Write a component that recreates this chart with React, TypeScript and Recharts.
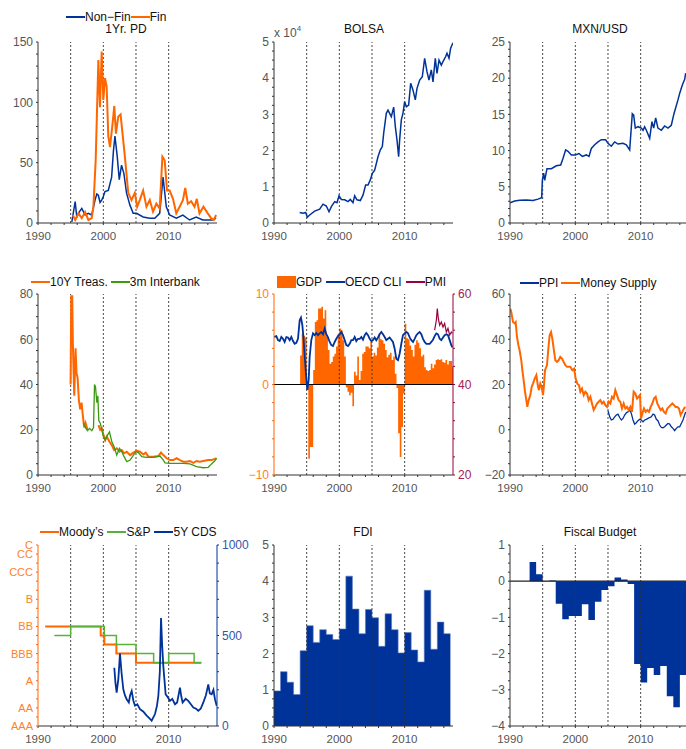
import React from "react";
import { ComposedChart, Line, Area, XAxis, YAxis, ReferenceLine } from "recharts";

const FONT = '"Liberation Sans", Arial, Helvetica, sans-serif';
const ORANGE = "#FF6600";
const BLUE = "#003399";
const GREEN = "#3A9A12";
const LIGHT_GREEN = "#58B23A";
const WINE = "#99003D";
const TICK_GRAY = "#555555";
const AXIS_GRAY = "#333333";

// x axis: minor ticks every two years, labels on the decades
const YEAR_TICKS = [1990, 1992, 1994, 1996, 1998, 2000, 2002, 2004, 2006, 2008, 2010, 2012, 2014, 2016];
const YEAR_LABELS = [1990, 2000, 2010];
const EVENT_YEARS = [1995, 2000, 2005, 2010];

// credit rating notches (AAA = 1 ... C = 21)
const RATING_NOTCHES = [1, 3, 6, 9, 12, 15, 18, 20, 21];
const RATING_LABELS = ["AAA", "AA", "A", "BBB", "BB", "B", "CCC", "CC", "C"];

type Pt = [number, number | null];

// 1Yr. PD
const PD_NONFIN: Pt[] = [
  [1995.18, 1], [1995.69, 17.7], [1995.94, 5], [1996.3, 9], [1996.7, 12], [1997.21, 6.6], [1997.72, 8], [1998.22, 6.6],
  [1998.73, 19], [1999.0, 24], [1999.24, 23], [1999.5, 17], [1999.75, 19], [2000.0, 22], [2000.25, 26], [2000.76, 27],
  [2001.27, 38], [2001.55, 60], [2001.78, 72], [2002.13, 55], [2002.44, 36], [2002.79, 48], [2003.15, 41], [2003.55, 25],
  [2004.06, 15], [2004.57, 8], [2005.08, 8], [2006.09, 5], [2007.11, 4], [2007.87, 4], [2008.63, 8], [2009.14, 38],
  [2009.64, 13.5], [2010.15, 6.6], [2011.17, 4], [2012.18, 6.6], [2013.2, 2.5], [2014.21, 5], [2015.23, 2.5],
  [2016.75, 2.5], [2017.26, 4],
];
const PD_FIN: Pt[] = [
  [1995.33, 6.6], [1995.69, 2.5], [1996.19, 8], [1996.7, 4], [1997.21, 9], [1997.72, 2.5], [1998.22, 4], [1998.48, 13.5],
  [1998.83, 52], [1999.24, 135], [1999.49, 96], [1999.75, 142], [2000.0, 102], [2000.25, 120], [2000.51, 113],
  [2000.76, 72], [2001.02, 63], [2001.37, 80], [2001.68, 97], [2001.93, 74], [2002.28, 88], [2002.64, 90], [2002.94, 74],
  [2003.3, 55], [2003.81, 25], [2004.31, 19], [2004.82, 25], [2005.18, 13.5], [2005.58, 19], [2006.09, 27],
  [2006.6, 13.5], [2007.11, 19], [2007.61, 9.4], [2008.12, 16], [2008.63, 12], [2009.04, 55], [2009.39, 52],
  [2009.75, 27], [2010.15, 27], [2010.66, 20], [2011.17, 8], [2011.68, 13.5], [2012.18, 19], [2012.54, 29],
  [2012.94, 16], [2013.45, 18], [2013.96, 13.5], [2014.31, 20], [2014.72, 8], [2015.33, 13.5], [2015.99, 8],
  [2016.5, 4], [2016.9, 2.5], [2017.26, 6.6],
];

// BOLSA index, in units of 10^4
const BOLSA: Pt[] = [
  [1993.93, 0.29], [1994.44, 0.27], [1994.85, 0.29], [1995.1, 0.16], [1995.46, 0.22], [1996.22, 0.33], [1996.99, 0.38],
  [1997.5, 0.52], [1998.01, 0.47], [1998.42, 0.31], [1998.78, 0.45], [1999.29, 0.59], [1999.64, 0.56], [1999.95, 0.75],
  [2000.31, 0.65], [2000.82, 0.64], [2001.33, 0.59], [2001.68, 0.65], [2002.09, 0.56], [2002.35, 0.75], [2002.7, 0.64],
  [2003.21, 0.62], [2003.62, 0.77], [2004.03, 1.05], [2004.39, 1.05], [2004.74, 1.19], [2005.05, 1.37], [2005.41, 1.46],
  [2005.92, 1.83], [2006.28, 2.02], [2006.58, 2.11], [2006.79, 2.48], [2007.19, 3.03], [2007.45, 3.12], [2007.7, 3.03],
  [2007.96, 2.94], [2008.32, 3.2], [2008.57, 2.66], [2008.83, 2.29], [2009.08, 1.83], [2009.23, 2.29], [2009.49, 2.85],
  [2009.74, 3.03], [2010.0, 3.35], [2010.26, 3.21], [2010.61, 3.26], [2010.92, 3.86], [2011.28, 3.67], [2011.63, 3.4],
  [2011.89, 3.72], [2012.3, 3.95], [2012.7, 4.04], [2013.06, 4.55], [2013.42, 4.18], [2013.72, 3.95], [2014.08, 4.23],
  [2014.34, 3.9], [2014.69, 4.55], [2014.95, 4.13], [2015.26, 4.5], [2015.61, 4.36], [2015.87, 4.46], [2016.28, 4.6],
  [2016.48, 4.69], [2016.79, 4.55], [2017.04, 4.83], [2017.4, 4.98],
];

// MXN/USD
const MXN_USD: Pt[] = [
  [1990.0, 2.8], [1990.71, 3.04], [1991.48, 3.13], [1992.5, 3.18], [1993.52, 3.1], [1994.29, 3.3], [1994.85, 3.5],
  [1994.95, 5.9], [1995.15, 6.9], [1995.31, 5.9], [1995.66, 7.5], [1996.33, 7.5], [1997.09, 7.9], [1997.76, 8.0],
  [1998.11, 8.9], [1998.52, 10.1], [1998.88, 9.9], [1999.39, 9.4], [2000.0, 9.4], [2000.56, 9.6], [2001.07, 9.2],
  [2001.68, 9.4], [2002.09, 9.2], [2002.45, 10.3], [2002.96, 10.8], [2003.47, 11.2], [2003.98, 11.5], [2004.64, 11.5],
  [2005.0, 11], [2005.51, 10.6], [2006.02, 11.2], [2006.53, 10.9], [2007.3, 11], [2007.81, 10.8], [2008.32, 10.1],
  [2008.72, 15.1], [2008.93, 14.9], [2009.18, 13.1], [2009.59, 13.3], [2010.1, 13.1], [2010.36, 12.8], [2010.61, 13.3],
  [2010.97, 12.6], [2011.38, 11.7], [2011.73, 14], [2011.99, 13.1], [2012.3, 14.5], [2012.65, 13.1], [2013.16, 12.8],
  [2013.67, 13.4], [2014.18, 13.1], [2014.69, 13.5], [2015.1, 15.1], [2015.71, 17], [2015.97, 17.9], [2016.22, 18.6],
  [2016.48, 19.3], [2016.73, 19.8], [2016.89, 20.7],
];

// 10Y Treasury (gap 1997.6-1999.2) and 3m interbank rate
const TREAS_10Y: Pt[] = [
  [1994.99, 40], [1995.09, 79], [1995.24, 79], [1995.34, 58], [1995.55, 35], [1995.75, 56], [1995.9, 45], [1996.06, 43],
  [1996.26, 33], [1996.46, 29], [1996.67, 32], [1996.87, 26], [1997.07, 21], [1997.28, 23], [1997.58, 20], [1998.4, null],
  [1999.26, 22], [1999.52, 20], [1999.77, 20.6], [2000.03, 17.6], [2000.28, 15.4], [2000.53, 17], [2000.94, 14.7],
  [2001.3, 13.2], [2001.65, 11], [2002.06, 11.8], [2002.47, 10.3], [2002.82, 11], [2003.18, 9.6], [2003.59, 10.3],
  [2004.1, 8.8], [2004.61, 9.9], [2005.11, 10.7], [2005.62, 10.3], [2006.13, 9.1], [2006.49, 9.9], [2006.9, 8.1],
  [2007.66, 8.1], [2008.42, 8.4], [2008.83, 9.9], [2009.19, 8.8], [2009.69, 7.4], [2010.2, 6.6], [2010.71, 6.6],
  [2011.22, 7.4], [2011.73, 6.6], [2012.24, 5.9], [2012.75, 5.9], [2013.26, 6.2], [2013.77, 5.4], [2014.27, 6.2],
  [2014.78, 5.9], [2015.29, 6.2], [2016.06, 6.6], [2016.56, 6.6], [2017.07, 7.1], [2017.33, 7.4],
];
const INTERBANK_3M: Pt[] = [
  [1996.97, 23], [1997.23, 21], [1997.58, 19.6], [1997.89, 20.6], [1998.24, 19.6], [1998.5, 21], [1998.65, 40],
  [1998.8, 39], [1999.01, 32], [1999.16, 35], [1999.31, 24], [1999.52, 23], [1999.77, 20], [2000.03, 17], [2000.28, 15.4],
  [2000.64, 17.6], [2000.94, 19], [2001.3, 14.7], [2001.65, 12.5], [2002.06, 8.8], [2002.47, 11.8], [2002.82, 10.3],
  [2003.18, 8.1], [2003.59, 5.9], [2004.1, 6.6], [2004.61, 8.8], [2005.01, 10.3], [2005.37, 9.9], [2005.88, 8.1],
  [2006.64, 7.8], [2007.66, 7.8], [2008.68, 8.4], [2009.19, 6.6], [2009.44, 5.4], [2010.2, 5.1], [2012.24, 5.1],
  [2013.26, 4.9], [2014.27, 3.7], [2015.29, 3.2], [2016.06, 3.4], [2016.56, 4.9], [2017.07, 6.3], [2017.33, 7.4],
];

// GDP growth, quarterly
const GDP_Q: Pt[] = [
  [1994.0, 3.2], [1994.25, 5.6], [1994.5, 5.4], [1994.75, 5.2], [1995.0, -0.6], [1995.25, -8.2], [1995.5, -6.9],
  [1995.75, -6.9], [1996.0, 1.6], [1996.25, 6.9], [1996.5, 7.1], [1996.75, 8.4], [1997.0, 8.4], [1997.25, 8.6],
  [1997.5, 7.3], [1997.75, 8.2], [1998.0, 5.3], [1998.25, 3.8], [1998.5, 2.3], [1998.75, 2.5], [1999.0, 3.1],
  [1999.25, 3.4], [1999.5, 4.2], [1999.75, 5.6], [2000.0, 6.2], [2000.25, 6.0], [2000.5, 4.9], [2000.75, 3.1],
  [2001.0, -0.3], [2001.25, -0.8], [2001.5, -1.2], [2001.75, -0.9], [2002.0, -2.4], [2002.25, 1.4], [2002.5, 1.0],
  [2002.75, 3.1], [2003.0, 0.5], [2003.25, 1.5], [2003.5, 3.4], [2003.75, 3.6], [2004.0, 4.2], [2004.25, 4.2],
  [2004.5, 4.0], [2004.75, 4.7], [2005.0, 3.1], [2005.25, 3.5], [2005.5, 3.2], [2005.75, 4.1], [2006.0, 5.6],
  [2006.25, 5.0], [2006.5, 4.9], [2006.75, 4.5], [2007.0, 3.8], [2007.25, 3.0], [2007.5, 3.3], [2007.75, 3.5],
  [2008.0, 2.7], [2008.25, 3.1], [2008.5, 1.2], [2008.75, -0.4], [2009.0, -5.4], [2009.25, -8.0], [2009.5, -4.7],
  [2009.75, -1.0], [2010.0, 6.7], [2010.25, 5.1], [2010.5, 5.0], [2010.75, 4.3], [2011.0, 3.8], [2011.25, 3.1],
  [2011.5, 4.4], [2011.75, 4.9], [2012.0, 4.6], [2012.25, 4.0], [2012.5, 3.1], [2012.75, 3.3], [2013.0, 1.9],
  [2013.25, 1.6], [2013.5, 1.5], [2013.75, 1.6], [2014.0, 2.3], [2014.25, 1.8], [2014.5, 2.2], [2014.75, 2.7],
  [2015.0, 2.8], [2015.25, 2.7], [2015.5, 2.8], [2015.75, 2.5], [2016.0, 2.4], [2016.25, 2.7], [2016.5, 2.2],
  [2016.75, 2.6], [2017.0, 2.6], [2017.25, 2.0],
];
// OECD CLI and PMI, on the right-hand scale
const OECD_CLI: Pt[] = [
  [1990.0, 50.5], [1990.36, 50.7], [1990.61, 49.8], [1990.87, 49.6], [1991.12, 50.5], [1991.38, 50.1], [1991.63, 49.4],
  [1991.89, 50.5], [1992.14, 50.4], [1992.4, 49.8], [1992.65, 50.5], [1992.91, 49.6], [1993.16, 49.0], [1993.42, 49.2],
  [1993.67, 50.1], [1993.93, 54.2], [1994.13, 54.8], [1994.34, 53.1], [1994.54, 49.8], [1994.74, 45.4], [1994.95, 41.3],
  [1995.1, 38.8], [1995.31, 41.0], [1995.46, 46.1], [1995.71, 49.8], [1995.97, 51.3], [1996.22, 50.9], [1996.48, 51.4],
  [1996.73, 50.9], [1996.99, 51.3], [1997.24, 51.6], [1997.5, 51.1], [1997.76, 52.4], [1998.01, 51.1], [1998.27, 50.4],
  [1998.52, 49.4], [1998.78, 48.7], [1999.03, 48.5], [1999.29, 49.4], [1999.54, 50.1], [1999.8, 50.7], [2000.05, 51.1],
  [2000.31, 51.6], [2000.56, 50.9], [2000.82, 49.8], [2001.07, 48.7], [2001.33, 48.5], [2001.58, 49.0], [2001.84, 49.8],
  [2002.09, 49.8], [2002.35, 50.5], [2002.6, 49.6], [2002.86, 50.1], [2003.11, 50.1], [2003.37, 50.5], [2003.62, 49.9],
  [2003.88, 50.9], [2004.13, 51.4], [2004.39, 50.9], [2004.64, 50.1], [2004.9, 49.6], [2005.15, 49.8], [2005.41, 50.4],
  [2005.66, 49.8], [2005.92, 50.4], [2006.17, 51.1], [2006.43, 51.6], [2006.68, 51.1], [2006.94, 50.5], [2007.19, 49.8],
  [2007.45, 50.1], [2007.7, 50.4], [2007.96, 49.9], [2008.21, 49.4], [2008.47, 47.9], [2008.72, 45.7], [2008.98, 45.4],
  [2009.23, 46.8], [2009.49, 49.0], [2009.74, 50.9], [2010.0, 51.3], [2010.26, 51.6], [2010.51, 51.3], [2010.77, 50.4],
  [2011.02, 49.8], [2011.28, 49.4], [2011.53, 50.1], [2011.79, 50.9], [2012.04, 51.3], [2012.3, 51.6], [2012.55, 51.1],
  [2012.81, 50.1], [2013.06, 49.4], [2013.32, 49.0], [2013.83, 49.0], [2014.08, 49.4], [2014.34, 49.9], [2014.59, 50.7],
  [2014.85, 51.3], [2015.1, 51.1], [2015.36, 50.1], [2015.61, 49.8], [2015.87, 50.4], [2016.12, 50.9], [2016.38, 51.1],
  [2016.63, 50.9], [2016.89, 49.8], [2017.14, 48.7], [2017.3, 48.2],
];
const PMI: Pt[] = [
  [2014.59, 52.0], [2014.85, 54.2], [2015.0, 56.8], [2015.15, 54.6], [2015.36, 53.1], [2015.61, 53.8], [2015.87, 52.7],
  [2016.12, 53.5], [2016.38, 51.6], [2016.63, 52.4], [2016.89, 50.9], [2017.14, 51.6], [2017.3, 51.3],
];

// PPI and money supply growth
const PPI: Pt[] = [
  [2005.0, 8.4], [2005.26, 5.7], [2005.51, 4.3], [2005.77, 4.6], [2006.02, 5.7], [2006.28, 6.5], [2006.53, 6.9],
  [2006.79, 5.4], [2007.04, 4.3], [2007.3, 5.0], [2007.55, 6.5], [2007.81, 7.5], [2008.06, 7.9], [2008.32, 8.7],
  [2008.57, 7.2], [2008.83, 4.3], [2009.08, 2.5], [2009.34, 3.1], [2009.59, 4.0], [2009.85, 4.6], [2010.1, 4.3],
  [2010.36, 3.5], [2010.61, 4.3], [2010.87, 4.6], [2011.12, 5.0], [2011.38, 5.4], [2011.63, 5.7], [2011.89, 6.9],
  [2012.14, 6.5], [2012.4, 4.6], [2012.65, 4.0], [2012.91, 2.1], [2013.16, 1.0], [2013.42, 0.9], [2013.67, 1.3],
  [2013.93, 2.1], [2014.18, 2.8], [2014.44, 2.5], [2014.69, 1.3], [2014.95, 0.6], [2015.2, -0.4], [2015.46, 0.6],
  [2015.71, 1.3], [2015.97, 1.3], [2016.22, 2.8], [2016.48, 4.3], [2016.73, 6.5], [2016.89, 7.9],
];
const MONEY_SUPPLY: Pt[] = [
  [1990.05, 53.5], [1990.2, 52], [1990.46, 47.6], [1990.71, 47], [1990.87, 47.6], [1991.07, 41], [1991.28, 37.4],
  [1991.48, 35], [1991.73, 30.7], [1991.89, 26.3], [1992.09, 21.9], [1992.3, 16.8], [1992.5, 13.1], [1992.65, 10.1],
  [1992.86, 13.1], [1993.11, 15.3], [1993.32, 19], [1993.52, 20.4], [1993.78, 22.6], [1994.03, 24.1], [1994.29, 19],
  [1994.44, 17.5], [1994.64, 20.4], [1994.85, 19], [1995.05, 15.3], [1995.2, 19.7], [1995.36, 26.3], [1995.66, 28.5],
  [1995.87, 35.9], [1996.07, 41.8], [1996.28, 43.2], [1996.48, 40.3], [1996.73, 35], [1996.94, 30.7], [1997.19, 30],
  [1997.45, 30.7], [1997.7, 32.2], [1997.96, 31.5], [1998.21, 30], [1998.47, 28.5], [1998.72, 27.8], [1998.98, 27.8],
  [1999.23, 27.8], [1999.54, 26.3], [1999.8, 27], [2000.05, 22.6], [2000.31, 20.4], [2000.56, 19.7], [2000.77, 16.8],
  [2001.02, 18.2], [2001.28, 15.3], [2001.53, 16.8], [2001.79, 16], [2002.04, 13.1], [2002.3, 14.6], [2002.55, 11.6],
  [2002.81, 8.7], [2003.06, 10.1], [2003.32, 11.6], [2003.57, 12.4], [2003.83, 13.1], [2004.08, 11.6], [2004.34, 12.4],
  [2004.59, 10.9], [2004.85, 10.1], [2005.1, 12.4], [2005.36, 11.6], [2005.61, 14.6], [2005.87, 13.8], [2006.12, 17.5],
  [2006.38, 15.3], [2006.63, 13.1], [2006.89, 12.4], [2007.14, 9.4], [2007.4, 11.6], [2007.65, 9.4], [2007.91, 10.1],
  [2008.16, 8.7], [2008.42, 10.1], [2008.67, 7.9], [2008.93, 16.8], [2009.18, 16], [2009.44, 13.8], [2009.69, 14.6],
  [2009.9, 15.3], [2010.05, 5], [2010.26, 7.2], [2010.51, 9.4], [2010.77, 7.9], [2011.02, 8.7], [2011.28, 7.9],
  [2011.53, 10.1], [2011.79, 11.6], [2012.04, 13.8], [2012.3, 14.6], [2012.55, 11.6], [2012.81, 10.1], [2013.06, 8.7],
  [2013.32, 9.4], [2013.57, 7.9], [2013.83, 7.2], [2014.08, 9.4], [2014.34, 10.1], [2014.59, 10.9], [2014.85, 11.6],
  [2015.1, 10.9], [2015.36, 10.1], [2015.61, 10.1], [2015.87, 9.4], [2016.12, 6.5], [2016.38, 7.9], [2016.63, 9.4],
  [2016.84, 10.1],
];

// sovereign ratings (notch changes) and 5Y CDS spread
const MOODYS: Pt[] = [[1991.1, 12], [1999.6, 11], [2000.15, 10], [2002.0, 9], [2005.0, 8], [2015.0, 8]];
const SP: Pt[] = [
  [1992.5, 11], [1995.0, 12], [2000.15, 11], [2002.0, 10], [2005.0, 9], [2007.7, 8], [2010.0, 9], [2013.9, 8], [2015.0, 8],
];
const CDS_5Y: Pt[] = [
  [2001.68, 322], [2001.85, 240], [2002.04, 185], [2002.3, 260], [2002.55, 400], [2002.8, 290], [2003.06, 203],
  [2003.3, 170], [2003.57, 148], [2003.9, 130], [2004.1, 170], [2004.34, 194], [2004.6, 140], [2004.85, 112],
  [2005.2, 120], [2005.61, 93], [2006.1, 80], [2006.63, 57], [2007.0, 45], [2007.4, 29], [2007.91, 66], [2008.2, 110],
  [2008.42, 166], [2008.65, 300], [2008.83, 596], [2009.0, 450], [2009.18, 331], [2009.54, 175], [2009.85, 160],
  [2010.2, 139], [2010.55, 150], [2010.97, 120], [2011.3, 130], [2011.73, 212], [2011.95, 160], [2012.14, 130],
  [2012.6, 150], [2013.01, 139], [2013.4, 120], [2013.78, 102], [2014.2, 95], [2014.54, 84], [2014.9, 95],
  [2015.31, 130], [2015.7, 170], [2016.07, 230], [2016.3, 180], [2016.58, 175], [2016.85, 200], [2017.09, 148],
  [2017.35, 112],
];

// annual FDI and fiscal balance
const FDI: Pt[] = [
  [1990, 0.97], [1991, 1.5], [1992, 1.21], [1993, 0.87], [1994, 2.08], [1995, 2.77], [1996, 2.31], [1997, 2.66],
  [1998, 2.53], [1999, 2.39], [2000, 2.68], [2001, 4.14], [2002, 3.23], [2003, 2.55], [2004, 3.22], [2005, 2.99],
  [2006, 2.2], [2007, 3.1], [2008, 2.66], [2009, 2.02], [2010, 2.58], [2011, 2.1], [2012, 1.77], [2013, 3.75],
  [2014, 2.12], [2015, 2.87], [2016, 2.55],
];
const FISCAL: Pt[] = [
  [1993, 0.53], [1994, 0.19], [1995, -0.01], [1996, 0.02], [1997, -0.62], [1998, -1.05], [1999, -0.96], [2000, -0.96],
  [2001, -0.64], [2002, -1.07], [2003, -0.57], [2004, -0.24], [2005, -0.14], [2006, 0.1], [2007, 0.05], [2008, -0.08],
  [2009, -2.29], [2010, -2.8], [2011, -2.4], [2012, -2.59], [2013, -2.34], [2014, -3.18], [2015, -3.48], [2016, -2.59],
];

const toPts = (arr: Pt[]) => arr.map(([x, y]) => ({ x, y }));
// step series: repeat the last value at the end of its period so the final bar gets its width
const stepPts = (arr: Pt[], period: number) => {
  const [lx, ly] = arr[arr.length - 1];
  return [...toPts(arr), { x: lx + period, y: ly }];
};

const tickRange = (min: number, max: number, step: number) => {
  const out: number[] = [];
  const n = Math.round((max - min) / step);
  for (let i = 0; i <= n; i++) out.push(Math.round((min + i * step) * 1e6) / 1e6);
  return out;
};
const majorLabel = (major: number) => (v: number) => {
  const k = v / major;
  if (Math.abs(k - Math.round(k)) > 1e-6) return "";
  return v < 0 ? "\u2212" + String(-v) : String(v);
};

const PLOT_W = 179;
const PLOT_H = 181;
const AXIS_W = 38;
const TOP_PAD = 10;
const X_AXIS_H = 26;
const COLS = [38, 274, 510];
const ROWS = [42, 294, 545];

function Panel({ col, row, right = 0, children }: { col: number; row: number; right?: number; children: React.ReactNode }) {
  return (
    <div style={{ position: "absolute", left: COLS[col] - AXIS_W, top: ROWS[row] - TOP_PAD }}>
      <ComposedChart
        width={AXIS_W + PLOT_W + (right || 8)}
        height={TOP_PAD + PLOT_H + X_AXIS_H}
        margin={{ top: TOP_PAD, right: right ? 0 : 8, bottom: 0, left: 0 }}
      >
        {children}
      </ComposedChart>
    </div>
  );
}

const timeAxis = () => (
  <XAxis
    dataKey="x"
    type="number"
    domain={[1990, 2017.4]}
    ticks={YEAR_TICKS}
    interval={0}
    allowDataOverflow
    tickFormatter={(v: number) => (YEAR_LABELS.includes(v) ? String(v) : "")}
    stroke={AXIS_GRAY}
    tickSize={2}
    tickMargin={7}
    height={X_AXIS_H}
    tick={{ fontSize: 11.5, fill: TICK_GRAY, fontFamily: FONT }}
  />
);

const valueAxis = (o: {
  id?: string;
  side?: "left" | "right";
  domain: [number, number];
  minor: number;
  major: number;
  color?: string;
  labelColor?: string;
  fontSize?: number;
  format?: (v: number) => string;
}) => (
  <YAxis
    yAxisId={o.id ?? "l"}
    orientation={o.side ?? "left"}
    type="number"
    domain={o.domain}
    ticks={tickRange(o.domain[0], o.domain[1], o.minor)}
    interval={0}
    allowDataOverflow
    tickFormatter={o.format ?? majorLabel(o.major)}
    width={o.side === "right" ? 40 : AXIS_W}
    stroke={o.color ?? AXIS_GRAY}
    tickSize={2}
    tickMargin={3}
    tick={{ fontSize: o.fontSize ?? 12, fill: o.labelColor ?? TICK_GRAY, fontFamily: FONT }}
  />
);

const eventLines = () =>
  EVENT_YEARS.map((yr) => (
    <ReferenceLine key={yr} x={yr} yAxisId="l" stroke="#333" strokeDasharray="2 2" strokeWidth={0.9} />
  ));

function series(data: Pt[], color: string, width = 1.5, axis = "l", type: "linear" | "stepAfter" = "linear") {
  return (
    <Line
      data={toPts(data)}
      dataKey="y"
      yAxisId={axis}
      type={type}
      stroke={color}
      strokeWidth={width}
      dot={false}
      activeDot={false}
      connectNulls={false}
      isAnimationActive={false}
    />
  );
}

type LegendItem = { label: string; color: string; box?: boolean; thick?: number };

function Legend({ left, cy, items, gap = 3 }: { left: number; cy: number; items: LegendItem[]; gap?: number }) {
  return (
    <div
      style={{
        position: "absolute",
        left,
        top: cy - 8,
        height: 16,
        display: "flex",
        alignItems: "center",
        fontFamily: FONT,
        fontSize: 12,
        color: "#111",
        whiteSpace: "nowrap",
      }}
    >
      {items.map((it, i) => (
        <span key={it.label} style={{ display: "flex", alignItems: "center", marginLeft: i ? gap : 0 }}>
          <span
            style={{
              display: "inline-block",
              width: 19,
              height: it.box ? 12 : it.thick ?? 1.5,
              background: it.color,
            }}
          />
          <span>{it.label}</span>
        </span>
      ))}
    </div>
  );
}

function Title({ cx, cy, text }: { cx: number; cy: number; text: string }) {
  return (
    <div
      style={{
        position: "absolute",
        left: cx,
        top: cy,
        transform: "translate(-50%, -50%)",
        fontFamily: FONT,
        fontSize: 12,
        color: "#111",
        whiteSpace: "nowrap",
      }}
    >
      {text}
    </div>
  );
}

export default function App() {
  return (
    <div
      style={{
        position: "absolute",
        left: 0,
        top: 0,
        width: 686,
        height: 749,
        overflow: "hidden",
        background: "#fff",
        fontFamily: FONT,
      }}
    >
      {/* 1Yr. PD */}
      <Panel col={0} row={0}>
        {timeAxis()}
        {valueAxis({ domain: [0, 150], minor: 10, major: 50 })}
        {eventLines()}
        {series(PD_NONFIN, BLUE, 1.5)}
        {series(PD_FIN, ORANGE, 2)}
      </Panel>
      <Legend
        left={66}
        cy={17}
        gap={0}
        items={[
          { label: "Non\u2212Fin", color: BLUE },
          { label: "Fin", color: ORANGE, thick: 2 },
        ]}
      />
      <Title cx={126} cy={29} text="1Yr. PD" />

      {/* BOLSA */}
      <Panel col={1} row={0}>
        {timeAxis()}
        {valueAxis({ domain: [0, 5], minor: 0.25, major: 1 })}
        {eventLines()}
        {series(BOLSA, BLUE, 1.5)}
      </Panel>
      <Title cx={364} cy={28.5} text="BOLSA" />
      <div style={{ position: "absolute", left: 274, top: 25, fontFamily: FONT, fontSize: 12, color: TICK_GRAY }}>
        x 10<sup style={{ fontSize: 8, position: "relative", top: -1 }}>4</sup>
      </div>

      {/* MXN/USD */}
      <Panel col={2} row={0}>
        {timeAxis()}
        {valueAxis({ domain: [0, 25], minor: 1, major: 5 })}
        {eventLines()}
        {series(MXN_USD, BLUE, 1.5)}
      </Panel>
      <Title cx={600} cy={28.5} text="MXN/USD" />

      {/* Rates */}
      <Panel col={0} row={1}>
        {timeAxis()}
        {valueAxis({ domain: [0, 80], minor: 5, major: 20 })}
        {eventLines()}
        {series(TREAS_10Y, ORANGE, 2)}
        {series(INTERBANK_3M, GREEN, 1.3)}
      </Panel>
      <Legend
        left={31}
        cy={282}
        items={[
          { label: "10Y Treas.", color: ORANGE, thick: 2 },
          { label: "3m Interbank", color: GREEN },
        ]}
      />

      {/* GDP / OECD CLI / PMI */}
      <Panel col={1} row={1} right={40}>
        {timeAxis()}
        {valueAxis({ domain: [-10, 10], minor: 2, major: 10, color: ORANGE, labelColor: "#FF7F2A" })}
        {valueAxis({ id: "r", side: "right", domain: [20, 60], minor: 4, major: 20, color: WINE, labelColor: "#A3204F" })}
        <Area
          data={stepPts(GDP_Q, 0.25)}
          dataKey="y"
          yAxisId="l"
          type="stepAfter"
          baseValue={0}
          stroke="none"
          fill={ORANGE}
          fillOpacity={1}
          isAnimationActive={false}
        />
        {eventLines()}
        <ReferenceLine y={0} yAxisId="l" stroke="#000" strokeWidth={1.2} />
        {series(OECD_CLI, BLUE, 1.8, "r")}
        {series(PMI, WINE, 1.2, "r")}
      </Panel>
      <Legend
        left={277}
        cy={282}
        gap={4}
        items={[
          { label: "GDP", color: ORANGE, box: true },
          { label: "OECD CLI", color: BLUE, thick: 2 },
          { label: "PMI", color: WINE },
        ]}
      />

      {/* PPI / Money Supply */}
      <Panel col={2} row={1}>
        {timeAxis()}
        {valueAxis({ domain: [-20, 60], minor: 5, major: 20 })}
        {eventLines()}
        {series(PPI, BLUE, 1.3)}
        {series(MONEY_SUPPLY, ORANGE, 2)}
      </Panel>
      <Legend
        left={520}
        cy={283}
        gap={3}
        items={[
          { label: "PPI", color: BLUE },
          { label: "Money Supply", color: ORANGE, thick: 2 },
        ]}
      />

      {/* Ratings / CDS */}
      <Panel col={0} row={2} right={40}>
        {timeAxis()}
        {valueAxis({
          domain: [1, 21],
          minor: 1,
          major: 1,
          color: ORANGE,
          labelColor: "#FF7F2A",
          fontSize: 11,
          format: (v: number) => RATING_LABELS[RATING_NOTCHES.indexOf(v)] ?? "",
        })}
        {valueAxis({ id: "r", side: "right", domain: [0, 1000], minor: 100, major: 500, color: BLUE, labelColor: "#3355AA" })}
        {eventLines()}
        {series(MOODYS, ORANGE, 2, "l", "stepAfter")}
        {series(SP, LIGHT_GREEN, 1.5, "l", "stepAfter")}
        {series(CDS_5Y, BLUE, 1.8, "r")}
      </Panel>
      <Legend
        left={40}
        cy={532}
        gap={4}
        items={[
          { label: "Moody\u2019s", color: ORANGE, thick: 2 },
          { label: "S&P", color: LIGHT_GREEN },
          { label: "5Y CDS", color: BLUE, thick: 2 },
        ]}
      />

      {/* FDI */}
      <Panel col={1} row={2}>
        {timeAxis()}
        {valueAxis({ domain: [0, 5], minor: 0.25, major: 1 })}
        {eventLines()}
        <Area
          data={stepPts(FDI, 1)}
          dataKey="y"
          yAxisId="l"
          type="stepAfter"
          baseValue={0}
          stroke="#5A78C0"
          strokeWidth={0.6}
          fill={BLUE}
          fillOpacity={1}
          isAnimationActive={false}
        />
      </Panel>
      <Title cx={363} cy={532} text="FDI" />

      {/* Fiscal Budget */}
      <Panel col={2} row={2}>
        {timeAxis()}
        {valueAxis({ domain: [-4, 1], minor: 0.25, major: 1 })}
        {eventLines()}
        <Area
          data={stepPts(FISCAL, 1)}
          dataKey="y"
          yAxisId="l"
          type="stepAfter"
          baseValue={0}
          stroke="none"
          fill={BLUE}
          fillOpacity={1}
          isAnimationActive={false}
        />
        <ReferenceLine y={0} yAxisId="l" stroke="#222" strokeWidth={1.2} />
      </Panel>
      <Title cx={600} cy={532} text="Fiscal Budget" />
    </div>
  );
}
